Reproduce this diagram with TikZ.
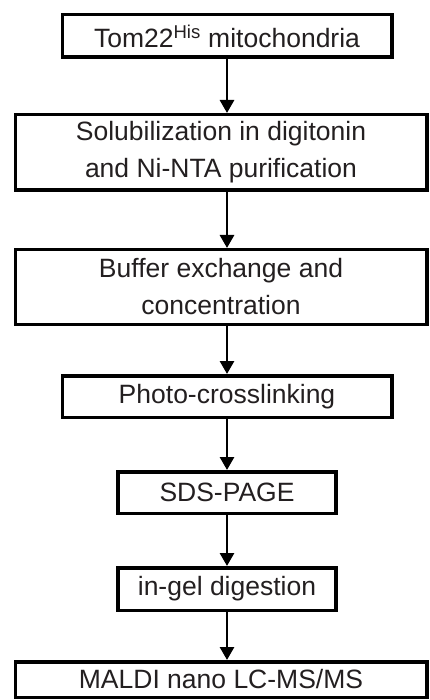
\documentclass[tikz,border=0pt]{standalone}
\usepackage{fontspec}
\setmainfont{Liberation Sans}
\usepackage{tikz}
\usetikzlibrary{arrows.meta, calc}
\definecolor{inkgray}{RGB}{35,31,32}

\begin{document}
\begin{tikzpicture}[x=1pt, y=-1pt,
    stepbox/.style={draw=black, line width=3.5pt, fill=white, text=inkgray,
      align=center, inner sep=0pt, font=\fontsize{26.5}{37}\selectfont},
    flow/.style={line width=2.8pt, -{Triangle[length=13pt,width=14pt]}}]
    \useasboundingbox (0,0) rectangle (430,700);
    %各工程の箱を置く
    \node[stepbox, minimum width=329.5, minimum height=42.5] (mito) at (227,36) {Tom22\textsuperscript{His} mitochondria};
    \node[stepbox, minimum width=411.5, minimum height=75.5] (sol) at (221,152.5) {Solubilization in digitonin\\and Ni-NTA purification};
    \node[stepbox, minimum width=411.5, minimum height=74.5] (buf) at (221,287) {Buffer exchange and\\concentration};
    \node[stepbox, minimum width=329.5, minimum height=41.5] (photo) at (227,396.5) {Photo-crosslinking};
    \node[stepbox, minimum width=218, minimum height=41.5] (sds) at (227,492.5) {SDS-PAGE};
    \node[stepbox, minimum width=218, minimum height=42.5] (gel) at (227,589) {in-gel digestion};
    \node[stepbox, minimum width=411.5, minimum height=35.5] (maldi) at (221,679.5) {MALDI nano LC-MS/MS};
    %工程をつなぐ矢印
    \draw[flow] (mito.south) -- (sol.north -| mito);
    \draw[flow] (sol.south -| mito) -- (buf.north -| mito);
    \draw[flow] (buf.south -| mito) -- (photo.north);
    \draw[flow] (photo.south) -- (sds.north);
    \draw[flow] (sds.south) -- (gel.north);
    \draw[flow] (gel.south) -- (maldi.north -| mito);
  \end{tikzpicture}
\end{document}
